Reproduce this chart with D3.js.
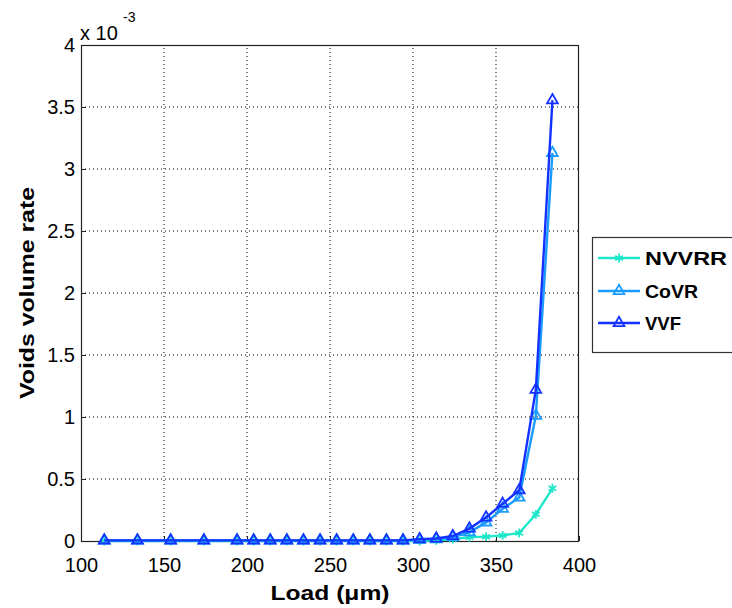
<!DOCTYPE html>
<html><head><meta charset="utf-8">
<script src="https://cdn.jsdelivr.net/npm/d3@7"></script>
<style>body{margin:0;background:#fff}svg{display:block}</style>
</head><body>
<script>
const loads = [114,134,154,174,194,204,214,224,234,244,254,264,274,284,294,304,314,324,334,344,354,364,374,384];
const nvvrr = [0,0,0,0,0,0,0,0,0,0,0,0,0,0,0,0,0.005,0.015,0.03,0.035,0.045,0.065,0.215,0.425];
const covr  = [0.005,0.005,0.005,0.005,0.005,0.005,0.005,0.005,0.005,0.005,0.005,0.005,0.005,0.005,0.005,0.01,0.015,0.03,0.07,0.15,0.26,0.35,1.01,3.13];
const vvf   = [0.005,0.005,0.005,0.005,0.005,0.005,0.005,0.005,0.005,0.005,0.005,0.005,0.005,0.005,0.005,0.015,0.02,0.04,0.10,0.19,0.30,0.41,1.22,3.555];
const seriesNames = ["NVVRR","CoVR","VVF"];
const seriesColors = ["#1ee6c8","#1a9cff","#1432ff"];
const xTicks = [100,150,200,250,300,350,400];
const yTicks = [0,0.5,1,1.5,2,2.5,3,3.5,4];
const yTickLabels = ["0","0.5","1","1.5","2","2.5","3","3.5","4"];

const W=732,H=608;
const L=81,R=579,T=45,B=541;
const svg=d3.select("body").append("svg").attr("width",W).attr("height",H);
const x=d3.scaleLinear().domain([100,400]).range([L,R]);
const y=d3.scaleLinear().domain([0,4]).range([B,T]);
const font="'Liberation Sans', Arial, Helvetica, sans-serif";

// grid
const g=svg.append("g");
xTicks.slice(1,-1).forEach(t=>{
  g.append("line").attr("x1",x(t)).attr("x2",x(t)).attr("y1",B).attr("y2",T)
   .attr("stroke","#000").attr("stroke-width",1).attr("stroke-dasharray","1,3");
});
yTicks.slice(1,-1).forEach(t=>{
  g.append("line").attr("x1",L).attr("x2",R).attr("y1",y(t)).attr("y2",y(t))
   .attr("stroke","#000").attr("stroke-width",1).attr("stroke-dasharray","1,3");
});

// axes using d3 axes (inside ticks)
const xAxis=d3.axisBottom(x).tickValues(xTicks).tickSize(-5).tickPadding(17).tickFormat(d3.format("d"));
const xa=svg.append("g").attr("transform",`translate(0,${B})`).call(xAxis);
const yAxis=d3.axisLeft(y).tickValues(yTicks).tickSize(-5).tickPadding(6).tickFormat((d,i)=>yTickLabels[i]);
const ya=svg.append("g").attr("transform",`translate(${L},0)`).call(yAxis);
[xa,ya].forEach(a=>{
  a.select(".domain").remove();
  a.selectAll("text").attr("font-family",font).attr("font-size",20).attr("fill","#000");
  a.selectAll("line").attr("stroke","#222");
});
// box
svg.append("rect").attr("x",L+0.5).attr("y",T+0.5).attr("width",R-L-1).attr("height",B-T)
  .attr("fill","none").attr("stroke","#222").attr("stroke-width",1.2);

// series
const allSeries=[nvvrr,covr,vvf];
const line=d3.line().x((d,i)=>x(loads[i])).y(d=>y(d));
const sym=[d3.symbol().type(d3.symbolAsterisk).size(55), d3.symbol().type(d3.symbolTriangle).size(50), d3.symbol().type(d3.symbolTriangle).size(50)];
allSeries.forEach((s,k)=>{
  svg.append("path").datum(s).attr("d",line).attr("fill","none")
    .attr("stroke",seriesColors[k]).attr("stroke-width",2.4);
  svg.append("g").selectAll("path").data(s).join("path")
    .attr("transform",(d,i)=>`translate(${x(loads[i])},${y(d)})`)
    .attr("d",sym[k]()).attr("fill","none").attr("stroke",seriesColors[k]).attr("stroke-width",1.8);
});

// exponent label
svg.append("text").attr("x",80).attr("y",40).attr("font-family",font).attr("font-size",20).attr("fill","#000").text("x 10");
svg.append("text").attr("x",123).attr("y",22).attr("font-family",font).attr("font-size",14).attr("fill","#000").text("-3");

// axis labels
svg.append("text").attr("x",(L+R)/2).attr("y",600).attr("text-anchor","middle")
  .attr("font-family",font).attr("font-weight","bold").attr("font-size",20).attr("fill","#000")
  .attr("textLength",119).attr("lengthAdjust","spacingAndGlyphs").text("Load (μm)");
svg.append("text").attr("transform",`translate(34,${(T+B)/2}) rotate(-90)`).attr("text-anchor","middle")
  .attr("font-family",font).attr("font-weight","bold").attr("font-size",20).attr("fill","#000")
  .attr("textLength",212).attr("lengthAdjust","spacingAndGlyphs").text("Voids volume rate");

// legend
const lg=svg.append("g");
lg.append("rect").attr("x",592.5).attr("y",237.5).attr("width",160).attr("height",115)
  .attr("fill","#fff").attr("stroke","#333").attr("stroke-width",1.2);
const legY=[258,291,323];
const legLen=[82,53,36];
seriesNames.forEach((n,k)=>{
  lg.append("line").attr("x1",598).attr("x2",640).attr("y1",legY[k]).attr("y2",legY[k])
    .attr("stroke",seriesColors[k]).attr("stroke-width",2.4);
  lg.append("path").attr("transform",`translate(619,${legY[k]})`).attr("d",sym[k]())
    .attr("fill","none").attr("stroke",seriesColors[k]).attr("stroke-width",1.8);
  lg.append("text").attr("x",645).attr("y",legY[k]).attr("dy","0.36em")
    .attr("font-family",font).attr("font-weight","bold").attr("font-size",19).attr("fill","#000")
    .attr("textLength",legLen[k]).attr("lengthAdjust","spacingAndGlyphs").text(n);
});
</script>
</body></html>
